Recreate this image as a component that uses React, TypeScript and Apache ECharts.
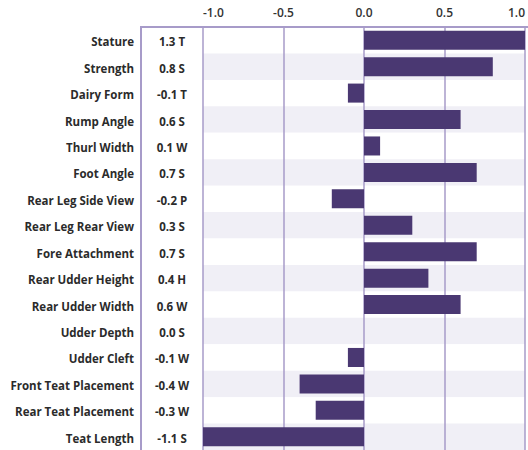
import React, { useEffect, useRef } from "react";
import * as echarts from "echarts";

const traits = [
  "Stature",
  "Strength",
  "Dairy Form",
  "Rump Angle",
  "Thurl Width",
  "Foot Angle",
  "Rear Leg Side View",
  "Rear Leg Rear View",
  "Fore Attachment",
  "Rear Udder Height",
  "Rear Udder Width",
  "Udder Depth",
  "Udder Cleft",
  "Front Teat Placement",
  "Rear Teat Placement",
  "Teat Length",
];
const values = [1.3, 0.8, -0.1, 0.6, 0.1, 0.7, -0.2, 0.3, 0.7, 0.4, 0.6, 0.0, -0.1, -0.4, -0.3, -1.1];
const codes = ["T", "S", "T", "S", "W", "S", "P", "S", "S", "H", "W", "S", "W", "W", "W", "S"];
const xTicks = [-1, -0.5, 0, 0.5, 1];

const FONT = "'Open Sans'";
const LINE = "#a79bc9";

export default function App() {
  const ref = useRef<HTMLDivElement>(null);
  useEffect(() => {
    if (!ref.current) return;
    const chart = echarts.init(ref.current, null, { renderer: "svg" });
    const labelFor: Record<string, string> = {};
    traits.forEach((t, i) => {
      labelFor[t] = values[i].toFixed(1) + " " + codes[i];
    });
    const gridTop = 27;
    const gridLeft = 203;
    chart.setOption({
      animation: false,
      grid: { left: gridLeft, right: 0, top: gridTop, height: 427, containLabel: false },
      xAxis: {
        type: "value",
        position: "top",
        min: xTicks[0],
        max: xTicks[xTicks.length - 1],
        interval: 0.5,
        axisLine: { show: false },
        axisTick: { show: false },
        axisLabel: {
          formatter: (v: number) => v.toFixed(1),
          fontFamily: FONT,
          fontSize: 12,
          fontWeight: 600,
          color: "#333",
          margin: 9,
          alignMinLabel: "left",
          alignMaxLabel: "right",
        },
        splitLine: { show: true, lineStyle: { color: LINE, width: 1.5 } },
      },
      yAxis: {
        type: "category",
        inverse: true,
        data: traits,
        axisLine: { show: false },
        axisTick: { show: false },
        splitLine: { show: false },
        splitArea: { show: true, areaStyle: { color: ["#ffffff", "#f0eff6"] } },
        axisLabel: {
          margin: 0,
          formatter: (v: string) => `{a|${v}}{b|${labelFor[v]}}`,
          rich: {
            a: {
              fontFamily: FONT,
              fontSize: 11.5,
              fontWeight: "bold",
              color: "#2b2b2b",
              align: "right",
              padding: [3, 7, 0, 0],
            },
            b: {
              fontFamily: FONT,
              fontSize: 11.5,
              fontWeight: "bold",
              color: "#2b2b2b",
              width: 62,
              align: "center",
              padding: [3, 0, 0, 0],
            },
          },
        },
      },
      series: [
        {
          type: "bar",
          data: values,
          barWidth: "72%",
          itemStyle: { color: "#4a3872" },
          clip: true,
        },
      ],
      graphic: [
        {
          type: "line",
          shape: { x1: 141, y1: gridTop, x2: 141, y2: 450 },
          style: { stroke: LINE, lineWidth: 2 },
          z: 10,
        },
        {
          type: "line",
          shape: { x1: 140, y1: gridTop, x2: 528, y2: gridTop },
          style: { stroke: LINE, lineWidth: 2 },
          z: 10,
        },
      ],
    });
    return () => chart.dispose();
  }, []);
  return (
    <div
      ref={ref}
      style={{ position: "fixed", left: 0, top: 0, width: 528, height: 450, background: "#fff" }}
    />
  );
}
